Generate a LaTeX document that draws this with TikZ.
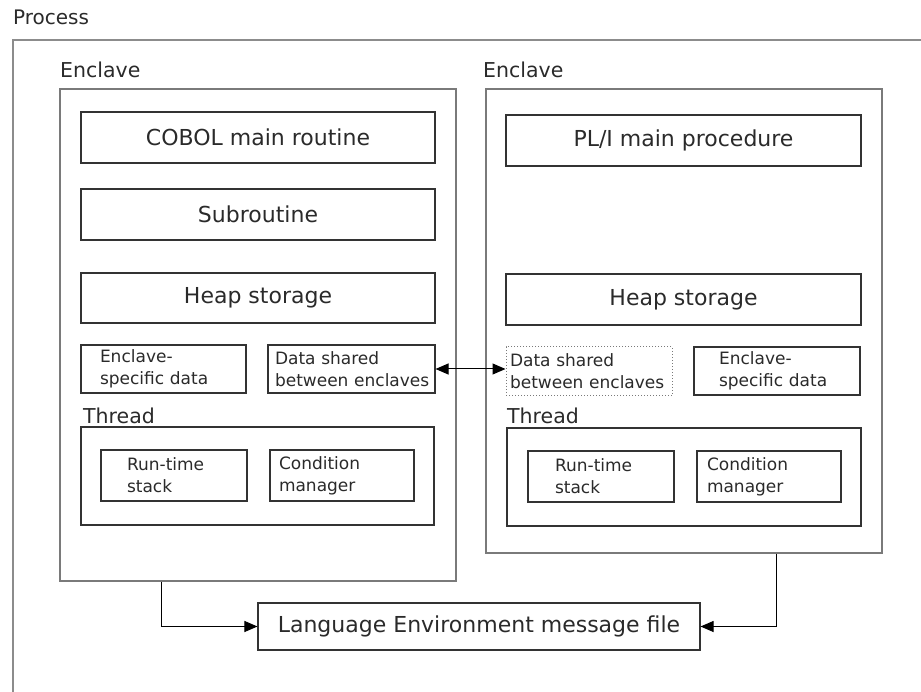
\documentclass[tikz,border=0pt]{standalone}
\usepackage{fontspec}
\setmainfont{DejaVu Sans}
\usetikzlibrary{arrows.meta}
\definecolor{txtc}{HTML}{2A2A2A}
\definecolor{boxc}{HTML}{333333}
\definecolor{encc}{HTML}{7A7A7A}
\definecolor{proc}{HTML}{8C8C8C}
\newcommand{\bigf}{\fontsize{22}{26}\selectfont}
\newcommand{\labf}{\fontsize{20.5}{24}\selectfont}
\newcommand{\smallf}{\fontsize{17}{22}\selectfont\hyphenpenalty=10000\exhyphenpenalty=10000\hbadness=10000\hfuzz=50pt}
\tikzset{
  every node/.style={text=txtc},
  box/.style={draw=boxc, line width=1.1pt, inner sep=0pt},
  bigbox/.style={box, font=\bigf},
  smbox/.style={box, font=\smallf, align=left, inner ysep=0pt},
  encbox/.style={draw=encc, line width=1.4pt, inner sep=0pt},
  dotbox/.style={draw=encc, dotted, line width=1pt, inner sep=0pt, font=\smallf, align=left},
  lab/.style={anchor=base west, inner sep=0pt, font=\labf},
  arr/.style={draw=black, line width=1pt, -{Triangle[length=13pt,width=11pt]}},
  darr/.style={draw=black, line width=1pt, {Triangle[length=13pt,width=11pt]}-{Triangle[length=13pt,width=11pt]}}
}
\begin{document}
\begin{tikzpicture}[x=1pt,y=-1pt]
\useasboundingbox (0,0) rectangle (921,692);
% process frame
\draw[draw=proc, line width=1.8pt] (13,692) -- (13,40) -- (921,40);
\node[lab, font=\fontsize{20}{24}\selectfont] (plab) at (13,25) {Process};

% left enclave
\node[lab] (elabL) at (60,78) {Enclave};
\node[encbox, minimum width=396pt, minimum height=492pt] (encL) at (258,335) {};
\node[bigbox, minimum width=354pt, minimum height=51pt] (cobol) at (258,137.5) {COBOL main routine};
\node[bigbox, minimum width=354pt, minimum height=51pt] (sub) at (258,214.5) {Subroutine};
\node[bigbox, minimum width=354pt, minimum height=50pt] (heapL) at (258,298) {Heap storage};
\node[smbox, minimum height=48pt, inner xsep=19pt, text width=127pt] (eslL) at (163.5,369) {Enclave-\\specific~data};
\node[smbox, minimum height=48pt, inner xsep=7pt, text width=153pt] (dsL) at (351.5,369) {Data~shared\\between~enclaves};
\node[lab] (thlabL) at (83,424) {Thread};
\node[box, minimum width=353pt, minimum height=98pt] (thL) at (257.5,476) {};
\node[smbox, minimum height=51pt, inner xsep=26pt, text width=94pt] (rtL) at (174,475.5) {Run-time\\stack};
\node[smbox, minimum height=51pt, inner xsep=9pt, text width=126pt] (cmL) at (342,475.5) {Condition\\manager};

% right enclave
\node[lab] (elabR) at (483,78) {Enclave};
\node[encbox, minimum width=396pt, minimum height=464pt] (encR) at (684,321) {};
\node[bigbox, minimum width=355pt, minimum height=51pt] (pli) at (683.5,140.5) {PL/I main procedure};
\node[bigbox, minimum width=355pt, minimum height=51pt] (heapR) at (683.5,299.5) {Heap storage};
\node[dotbox, minimum height=49pt, inner xsep=4pt, text width=158pt] (dsR) at (589,371.5) {Data~shared\\between~enclaves};
\node[smbox, minimum height=48pt, inner xsep=25pt, text width=116pt] (eslR) at (777,371) {Enclave-\\specific~data};
\node[lab] (thlabR) at (507,424) {Thread};
\node[box, minimum width=354pt, minimum height=98pt] (thR) at (684,477) {};
\node[smbox, minimum height=51pt, inner xsep=27pt, text width=92pt] (rtR) at (601,476.5) {Run-time\\stack};
\node[smbox, minimum height=51pt, inner xsep=10pt, text width=124pt] (cmR) at (769,476.5) {Condition\\manager};

% message file
\node[bigbox, minimum width=442pt, minimum height=47pt] (msg) at (479,626.5) {Language Environment message file};

% connectors
\draw[darr] (dsL.east) -- (dsL.east -| dsR.west);
\draw[arr] ([xshift=102pt]encL.south west) |- (msg.west);
\draw[arr] ([xshift=291pt]encR.south west) |- (msg.east);
\end{tikzpicture}
\end{document}
